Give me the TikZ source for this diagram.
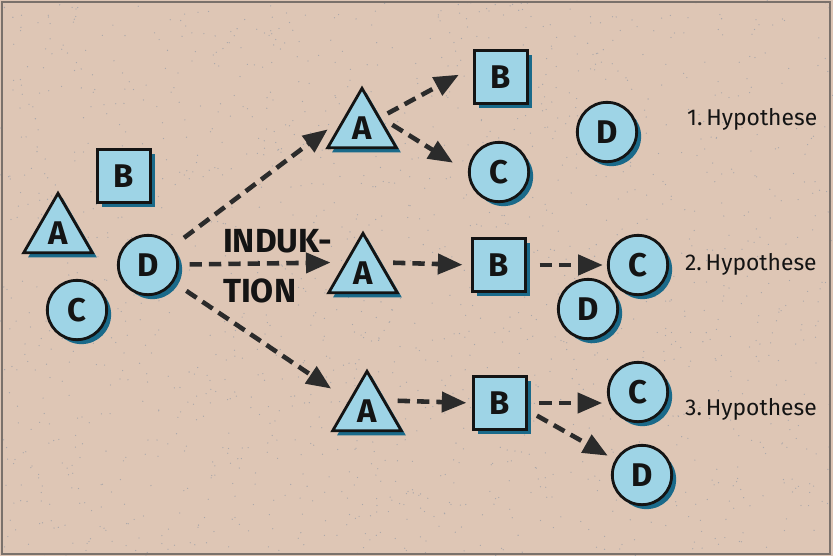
\documentclass[tikz,border=0pt]{standalone}
\usepackage{fontspec}
\setmainfont{Fira Sans}
\usetikzlibrary{shapes.geometric,shadows,arrows.meta}

\definecolor{bgpeach}{HTML}{DEC6B5}
\definecolor{fillblue}{HTML}{9ED4E6}
\definecolor{shadowblue}{HTML}{1A6A8A}
\definecolor{arrowgray}{HTML}{2B2B2B}
\definecolor{dotgray}{HTML}{A9A7AA}
\definecolor{framegray}{HTML}{7A716B}
\definecolor{inkblack}{HTML}{141414}

\tikzset{
  element/.style={draw=inkblack, line width=2.4pt, fill=fillblue, inner sep=0pt,
    text=inkblack, font=\fontsize{28}{32}\selectfont\bfseries,
    drop shadow={shadow xshift=3.8pt, shadow yshift=-3.8pt, fill=shadowblue, opacity=1}},
  trinode/.style={element, regular polygon, regular polygon sides=3, minimum size=2.38cm},
  boxnode/.style={element, rectangle, minimum size=1.58cm},
  discnode/.style={element, circle, minimum size=1.78cm},
  arr/.style={draw=arrowgray, line width=3.9pt, dash pattern=on 10.5pt off 6pt,
    -{Triangle[length=21pt,width=17pt]}},
  hyplabel/.style={anchor=base west, text=inkblack, font=\fontsize{19.5}{24}\selectfont},
  bigword/.style={anchor=base west, text=inkblack, font=\fontsize{28.5}{34}\selectfont\bfseries}
}

\begin{document}
\begin{tikzpicture}[x=0.03cm, y=-0.03cm]
    % background and frame
    \fill[bgpeach] (0,0) rectangle (833,556);
    \useasboundingbox (0,0) rectangle (833,556);
    \pgfmathsetseed{31}
    \foreach \k in {1,...,1600} {
        \fill[dotgray] (rnd*833, rnd*556) circle (0.55pt);
    }
    \draw[framegray, line width=0.9pt] (2,2) rectangle (830,554);

    % starting set
    \node[trinode] (lA) at (58,233) {A};
    \node[boxnode] (lB) at (124,176) {B};
    \node[discnode] (lC) at (77,310) {C};
    \node[discnode] (lD) at (148,265) {D};
    \node[bigword] (induk) at (219,252) {INDUK-};
    \node[bigword] (tion) at (219,302) {TION};

    % 1. Hypothese
    \node[trinode] (tA) at (362,128) {A};
    \node[boxnode] (tB) at (501,77) {B};
    \node[discnode] (tC) at (499,172) {C};
    \node[discnode] (tD) at (607,132) {D};
    \node[hyplabel] (hyp1) at (683,125) {1.\,Hypothese};

    % 2. Hypothese
    \node[trinode] (mA) at (363,273) {A};
    \node[boxnode] (mB) at (499,265) {B};
    \node[discnode] (mC) at (638,265) {C};
    \node[discnode] (mD) at (588,309) {D};
    \node[hyplabel] (hyp2) at (681,270) {2.\,Hypothese};

    % 3. Hypothese
    \node[trinode] (bA) at (367,411) {A};
    \node[boxnode] (bB) at (500,403) {B};
    \node[discnode] (bC) at (638,392) {C};
    \node[discnode] (bD) at (642,475) {D};
    \node[hyplabel] (hyp3) at (681,415) {3.\,Hypothese};

    % induction arrows
    \draw[arr, shorten <=12pt, shorten >=17pt] (lD) -- (tA.side 1);
    \draw[arr, shorten <=9pt, shorten >=12pt] (lD) -- (mA.side 1);
    \draw[arr, shorten <=13pt, shorten >=18pt] (lD) -- (bA.side 1);

    \draw[arr, shorten <=7pt, shorten >=14pt] (tA.side 3) -- (tB.160);
    \draw[arr, shorten <=12pt, shorten >=15pt] (tA.side 3) -- (tC.west);

    \draw[arr, shorten <=10pt, shorten >=7.5pt] (mA.side 3) -- (mB.west);
    \draw[arr, shorten <=11pt, shorten >=3.5pt] (mB.east) -- (mC.west);

    \draw[arr, shorten <=10.5pt, shorten >=5pt] (bA.side 3) -- (bB.west);
    \draw[arr, shorten <=10pt, shorten >=4pt] (bB.east) -- (bB.east -| bC.west);
    \draw[arr, shorten <=9pt, shorten >=7pt] (bB.-15) -- (bD);
\end{tikzpicture}
\end{document}
